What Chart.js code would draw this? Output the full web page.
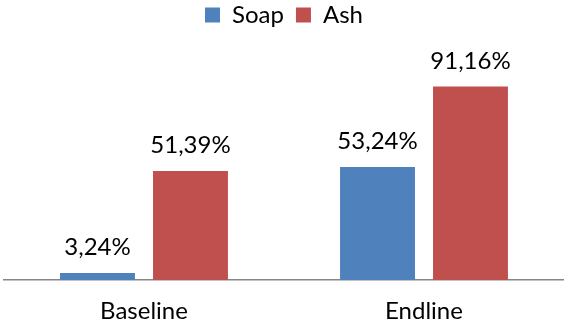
<!DOCTYPE html>
<html>
<head>
<meta charset="utf-8">
<script src="https://cdn.jsdelivr.net/npm/chart.js@4"></script>
<style>
  html,body{margin:0;padding:0;background:#fff;}
  #wrap{width:564px;height:327px;}
</style>
</head>
<body>
<div id="wrap"><canvas id="c" width="564" height="327"></canvas></div>
<script>
const categories=['Baseline','Endline'];
const soap=[3.24,53.24];
const ash=[51.39,91.16];
const seriesNames=['Soap','Ash'];

const FONT='Lato, "Open Sans", sans-serif';
const fmt=v=>v.toFixed(2).replace('.',',')+'%';

// value labels above each bar
const barLabels={
  id:'barLabels',
  afterDatasetsDraw(chart){
    const ctx=chart.ctx;
    ctx.save();
    ctx.font='24px '+FONT;
    ctx.fillStyle='#000';
    ctx.textAlign='center';
    ctx.textBaseline='alphabetic';
    chart.data.datasets.forEach((ds,i)=>{
      chart.getDatasetMeta(i).data.forEach((bar,j)=>{
        ctx.fillText(fmt(ds.data[j]),bar.x,bar.y-18);
      });
    });
    ctx.restore();
  }
};

new Chart(document.getElementById('c'),{
  type:'bar',
  data:{
    labels:categories,
    datasets:[
      {label:seriesNames[0],data:soap,backgroundColor:'#4F81BD',categoryPercentage:0.664,barPercentage:0.806},
      {label:seriesNames[1],data:ash,backgroundColor:'#C0504D',categoryPercentage:0.664,barPercentage:0.806}
    ]
  },
  options:{
    responsive:false,
    animation:false,
    devicePixelRatio:1,
    layout:{padding:{left:4,right:0,top:-9,bottom:0}},
    plugins:{
      legend:{
        position:'top',
        labels:{boxWidth:15,boxHeight:15,padding:12,color:'#000',font:{family:FONT,size:24}}
      },
      tooltip:{enabled:false}
    },
    scales:{
      x:{
        grid:{display:false},
        border:{display:true,color:'#868686',width:1.5},
        ticks:{color:'#000',padding:9,font:{family:FONT,size:24}},
        afterFit(scale){scale.height=47;}
      },
      y:{display:false,min:0,max:114.5}
    }
  },
  plugins:[barLabels]
});
</script>
</body>
</html>
